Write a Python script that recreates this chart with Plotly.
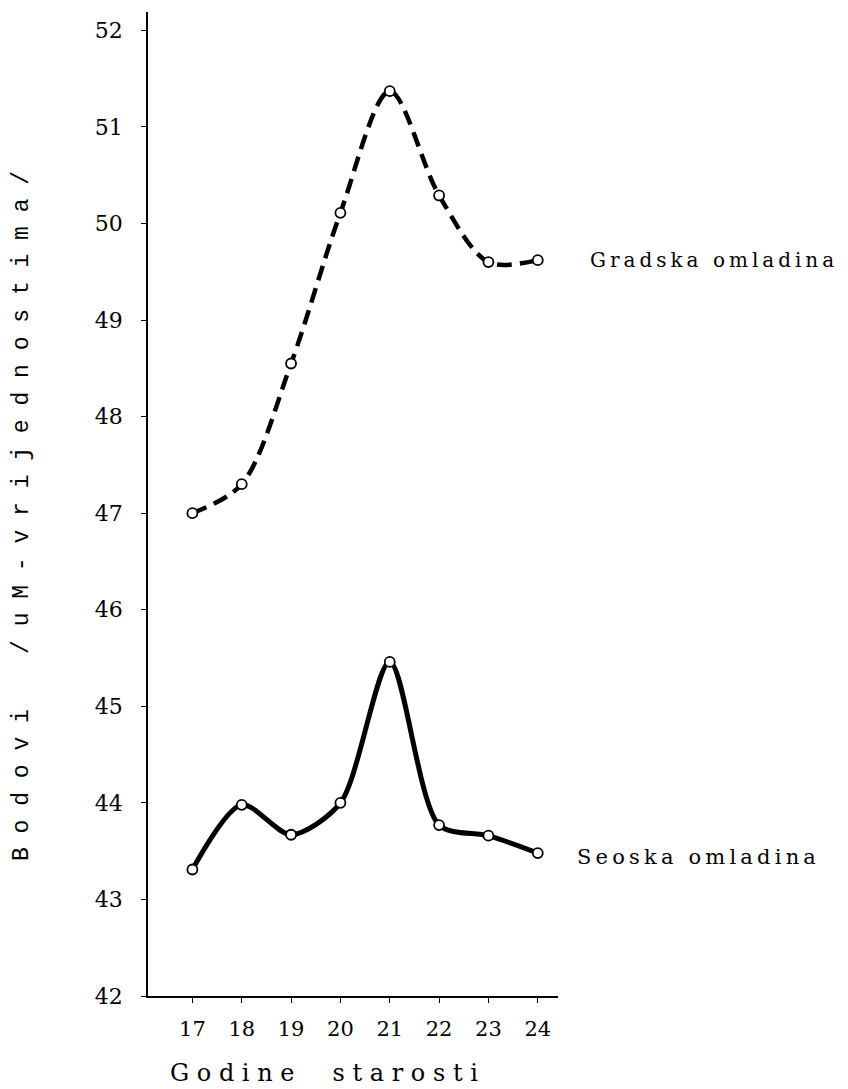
import plotly.graph_objects as go

ages = [17, 18, 19, 20, 21, 22, 23, 24]
gradska = [47.0, 47.30, 48.55, 50.11, 51.37, 50.29, 49.60, 49.62]
seoska = [43.31, 43.98, 43.67, 44.00, 45.46, 43.77, 43.66, 43.48]
y_ticks = [42, 43, 44, 45, 46, 47, 48, 49, 50, 51, 52]
label_gradska = "Gradska omladina"
label_seoska = "Seoska omladina"
y_title_words = ["Bodovi", "/ u M - vrijednostima /"]
x_title_words = ["Godine", "starosti"]

SERIF = "DejaVu Serif"
MONO = "Liberation Mono"
NB = "\u00a0"

# plot area in page pixels (page has an 8px body margin)
PL, PR, PT, PB = 148, 558, 12, 996


def px_x(px):
    return (px - PL) / (PR - PL)


def px_y(py):
    return (PB - py) / (PB - PT)


def spaced(s, sep="\u2009"):
    return sep.join(list(s))


def letter_spaced(s):
    return NB.join(c for c in s.replace(" ", ""))


fig = go.Figure()
fig.add_trace(go.Scatter(
    x=ages, y=gradska, mode="lines+markers",
    line=dict(color="black", width=4.5, dash="15px,8px", shape="spline", smoothing=0.9),
    marker=dict(symbol="circle", size=10, color="white", line=dict(color="black", width=1.8)),
    showlegend=False,
))
fig.add_trace(go.Scatter(
    x=ages, y=seoska, mode="lines+markers",
    line=dict(color="black", width=5, shape="spline", smoothing=0.8),
    marker=dict(symbol="circle", size=10, color="white", line=dict(color="black", width=1.8)),
    showlegend=False,
))

fig.add_annotation(x=ages[-1], y=gradska[-1], xref="x", yref="y", xshift=50,
                   text=spaced(label_gradska), showarrow=False, xanchor="left",
                   font=dict(family=SERIF, size=20, color="black"))
fig.add_annotation(x=ages[-1], y=seoska[-1], xref="x", yref="y", xshift=37, yshift=-4,
                   text=spaced(label_seoska), showarrow=False, xanchor="left",
                   font=dict(family=SERIF, size=21, color="black"))

y_title = (NB * 4).join([letter_spaced(y_title_words[0]), NB.join(y_title_words[1].replace(" ", ""))])
fig.add_annotation(x=px_x(22), y=px_y(516), xref="paper", yref="paper",
                   text=y_title, textangle=-90, showarrow=False,
                   xanchor="center", yanchor="middle",
                   font=dict(family=MONO, size=23, color="black"))
x_title = (NB * 5).join(letter_spaced(w) for w in x_title_words)
fig.add_annotation(x=px_x(168), y=px_y(1073), xref="paper", yref="paper",
                   text=x_title, showarrow=False,
                   xanchor="left", yanchor="middle",
                   font=dict(family=SERIF, size=24, color="black"))

fig.update_xaxes(range=[16.1, 24.41], tickvals=ages, ticktext=[str(a) for a in ages],
                 showgrid=False, zeroline=False, showline=True, linecolor="black",
                 linewidth=1.5, ticks="outside", ticklen=5, tickcolor="black",
                 tickfont=dict(family=SERIF, size=21, color="black"),
                 ticklabelstandoff=8)
fig.update_yaxes(range=[42, 52.19], tickvals=y_ticks, ticktext=[str(v) for v in y_ticks],
                 showgrid=False, zeroline=False, showline=True, linecolor="black",
                 linewidth=1.5, ticks="outside", ticklen=5, tickcolor="black",
                 tickfont=dict(family=SERIF, size=22, color="black"),
                 ticklabelstandoff=14)

fig.update_layout(
    width=840, height=1081,
    margin=dict(l=PL - 8, r=840 - (PR - 8), t=PT - 8, b=1081 - (PB - 8)),
    plot_bgcolor="white", paper_bgcolor="white",
)

fig.write_html("out.html")
